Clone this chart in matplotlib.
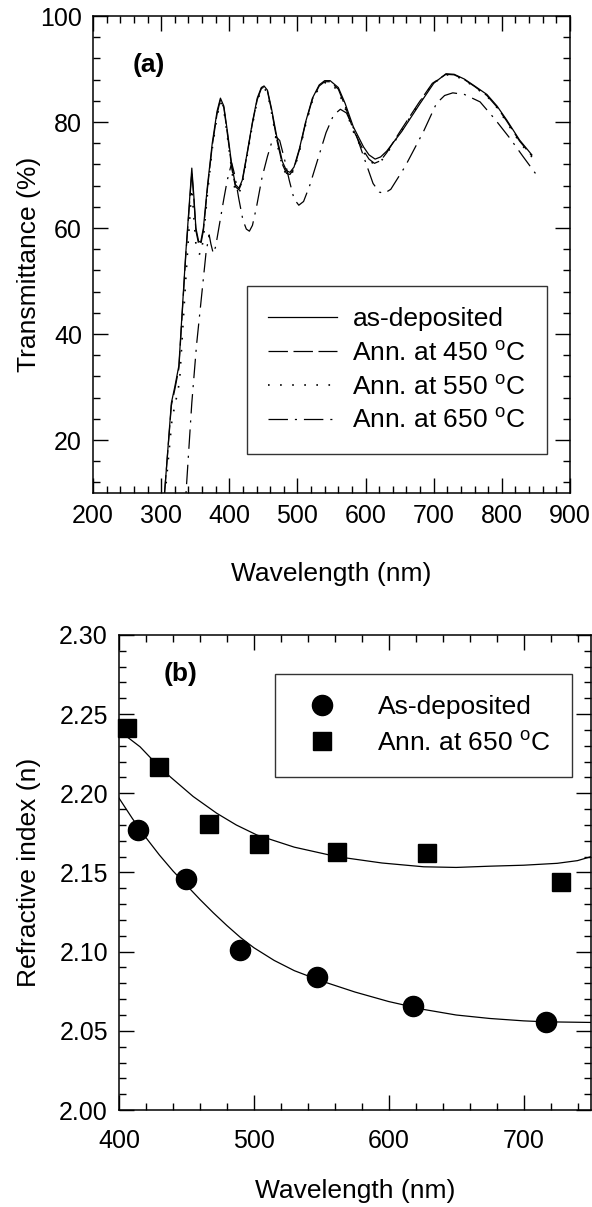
import matplotlib
matplotlib.use("Agg")
import matplotlib.pyplot as plt
from matplotlib.ticker import MultipleLocator, FormatStrFormatter

plt.rcParams['font.family'] = ['Liberation Sans', 'DejaVu Sans']
plt.rcParams['mathtext.fontset'] = 'custom'
plt.rcParams['mathtext.rm'] = 'Liberation Sans'
plt.rcParams['lines.scale_dashes'] = False

# ---------------- (a) Transmittance spectra ----------------
wl_asdep = [303, 305, 315, 320, 326, 336, 341, 345, 348, 351, 355, 358, 362, 368, 375, 382, 387,
            392, 398, 404, 409, 414, 419, 426, 434, 441, 447, 451, 456, 462, 470, 478, 484, 489,
            495, 503, 512, 522, 532, 540, 548, 560, 570, 582, 597, 605, 614, 622, 631, 653, 680,
            700, 718, 730, 745, 760, 778, 793, 807, 826, 844]
T_asdep = [5, 10, 27, 30, 34, 55, 64, 71.3, 66, 60, 57.5, 57.3, 60, 68, 76, 82, 84.5,
           83, 77.5, 71.5, 68.2, 67.5, 69, 74, 80, 84.5, 86.5, 86.8, 86, 82.5, 77, 72.5, 70.8, 70.5,
           71.5, 75, 80, 84.5, 87, 87.8, 87.8, 86.5, 83.5, 79.1, 75.3, 73.8, 73.0, 73.4, 74.5, 78.2, 83.5,
           87.3, 89.1, 89.0, 88.1, 86.8, 85.2, 83.0, 80.4, 76.6, 73.8]

wl_450 = [303, 305, 315, 320, 326, 336, 341, 345, 348, 351, 355, 358, 362, 368, 375, 382, 387,
          392, 398, 404, 409, 414, 419, 426, 434, 441, 447, 451, 456, 462, 470, 478, 484, 489,
          495, 503, 512, 522, 532, 540, 548, 560, 570, 582, 597, 605, 613, 622, 631, 651, 678,
          698, 718, 730, 745, 760, 778, 793, 807, 826, 844]
T_450 = [5, 10, 26.5, 29.5, 33.5, 54.5, 63.5, 70.5, 65.5, 59.5, 57, 56.8, 59.5, 67.5, 75.5, 81.5, 84.2,
         82.7, 77, 71, 67.8, 67.2, 68.7, 73.8, 79.8, 84.2, 86.3, 86.6, 85.8, 82.2, 76.5, 72, 70.3, 70.1,
         71.2, 74.8, 79.8, 84.3, 86.8, 87.6, 87.6, 86.2, 83, 78.5, 74.6, 73.0, 72.2, 72.7, 74.2, 78.3, 83.6,
         87.3, 89.0, 88.9, 88.0, 86.7, 85.0, 82.8, 80.2, 76.4, 73.6]

wl_550 = [303, 306, 316, 321, 327, 336, 341, 345, 348, 351, 355, 358, 362, 368, 375, 382, 387,
          392, 398, 404, 409, 414, 419, 426, 434, 441, 447, 451, 456, 462, 470, 478, 484, 489,
          495, 503, 512, 522, 532, 540, 548, 560, 570, 582, 597, 605, 613, 622, 631, 651, 678,
          698, 718, 730, 745, 760, 778, 793, 807, 826, 844]
T_550 = [5, 10, 24, 27, 31, 50, 60, 67.5, 62, 57, 55.2, 55, 58, 66.5, 75, 81, 83.8,
         82.3, 76.5, 70.5, 66.8, 66.5, 68.2, 73.5, 79.5, 84, 86, 86.4, 85.5, 81.8, 76, 71.6, 70, 69.8,
         71, 74.5, 79.5, 84, 86.6, 87.4, 87.4, 85.8, 82.6, 78.2, 74.3, 72.8, 72.0, 72.5, 74.0, 78.0, 83.4,
         87.2, 88.9, 88.8, 87.9, 86.6, 84.9, 82.7, 80.0, 76.2, 73.4]

wl_650 = [334, 336.5, 345, 352, 360, 366, 370.5, 373, 376.5, 380, 386, 392, 397, 403.5, 408, 414,
          420, 425, 429.5, 434, 440, 448, 456, 463, 469, 474, 481, 488, 495, 502, 509, 518, 530,
          542, 553, 563, 572, 584.5, 599, 611, 620, 627, 637, 658, 685, 704, 716, 728, 745, 768,
          790, 812, 831, 851]
T_650 = [5, 10, 27, 38, 48, 55.5, 58.7, 57, 55.2, 56.5, 61, 65.5, 69, 72.3, 70, 65.5,
         61.5, 59.8, 59.4, 60.5, 64, 69.5, 73.5, 76.5, 77.2, 76.5, 73, 69, 65.5, 64.3, 65, 68, 73,
         78, 81.3, 82.4, 81.7, 78.2, 72.8, 68.4, 66.8, 66.5, 67.3, 71.6, 78.2, 83.5, 85.0, 85.5, 85.2, 83.8,
         80.5, 76.9, 73.5, 70.0]

labels_a = ['as-deposited', r'Ann. at 450 $^{\mathrm{o}}$C',
            r'Ann. at 550 $^{\mathrm{o}}$C', r'Ann. at 650 $^{\mathrm{o}}$C']

# ---------------- (b) Refractive index ----------------
wl_n_asdep = [413.9, 449.5, 489.8, 546.8, 618.0, 716.3]
n_asdep = [2.177, 2.1457, 2.101, 2.0842, 2.0656, 2.0557]
wl_n_650 = [405.7, 430.0, 466.8, 503.9, 561.6, 628.4, 728.0]
n_650 = [2.241, 2.2168, 2.1806, 2.168, 2.163, 2.162, 2.144]

fit_wl_asdep = [400, 410, 420, 430, 440, 450, 460, 470, 480, 490, 500, 515, 530, 550, 575, 600,
                626, 650, 675, 700, 716, 750]
fit_n_asdep = [2.197, 2.184, 2.172, 2.161, 2.151, 2.142, 2.133, 2.1245, 2.1165, 2.109, 2.1025, 2.0945,
               2.0880, 2.0815, 2.0745, 2.0685, 2.0635, 2.0600, 2.0578, 2.0563, 2.0557, 2.0553]
fit_wl_650 = [400, 407, 415.6, 425, 437.9, 455, 472.5, 487, 502.2, 530, 561.6, 595, 626, 650, 675.4,
              700, 725, 740, 750]
fit_n_650 = [2.240, 2.235, 2.2294, 2.221, 2.2105, 2.198, 2.1874, 2.180, 2.1737, 2.166, 2.160, 2.156,
             2.1536, 2.1532, 2.154, 2.1546, 2.1558, 2.1575, 2.160]
labels_b = ['As-deposited', r'Ann. at 650 $^{\mathrm{o}}$C']

# ---------------- figure ----------------
W, H = 592, 1207
fig = plt.figure(figsize=(W / 100, H / 100), dpi=100)

def frac(x0, y0, x1, y1):
    return [x0 / W, 1 - y1 / H, (x1 - x0) / W, (y1 - y0) / H]

ax1 = fig.add_axes(frac(93, 16, 570, 493))
ax2 = fig.add_axes(frac(119, 635, 591, 1110))

lw = 0.9
ax1.plot(wl_asdep, T_asdep, color='black', lw=lw, ls='-', label=labels_a[0])
ax1.plot(wl_450, T_450, color='black', lw=lw, ls=(0, (14, 4)), label=labels_a[1])
ax1.plot(wl_550, T_550, color='black', lw=1.2, ls=(0, (1.2, 7.5)), label=labels_a[2])
ax1.plot(wl_650, T_650, color='black', lw=lw, ls=(0, (14, 5, 1.5, 5)), label=labels_a[3])

ax1.set_xlim(200, 900)
ax1.set_ylim(10, 100)
ax1.xaxis.set_major_locator(MultipleLocator(100))
ax1.xaxis.set_minor_locator(MultipleLocator(20))
ax1.yaxis.set_major_locator(MultipleLocator(20))
ax1.yaxis.set_minor_locator(MultipleLocator(4))
ax1.set_xlabel('Wavelength (nm)', fontsize=19)
ax1.set_ylabel('Transmittance (%)', fontsize=19)
ax1.xaxis.set_label_coords(0.5, -0.145)
ax1.yaxis.set_label_coords(-0.108, 0.48)
ax1.text(0.084, 0.883, '(a)', transform=ax1.transAxes, fontsize=19, fontweight='bold')
leg1 = ax1.legend(loc='lower right', bbox_to_anchor=(0.952, 0.081), borderaxespad=0,
                  fontsize=19, frameon=True, fancybox=False, edgecolor='black',
                  handlelength=2.6, handletextpad=0.6, labelspacing=0.35, borderpad=0.8)
leg1.get_frame().set_linewidth(1.0)

ax2.plot(fit_wl_asdep, fit_n_asdep, color='black', lw=lw)
ax2.plot(fit_wl_650, fit_n_650, color='black', lw=lw)
ax2.plot(wl_n_asdep, n_asdep, 'o', color='black', ms=14.5, ls='none', label=labels_b[0], clip_on=False)
ax2.plot(wl_n_650, n_650, 's', color='black', ms=13, ls='none', label=labels_b[1], clip_on=False)
ax2.set_xlim(400, 750)
ax2.set_ylim(2.00, 2.30)
ax2.xaxis.set_major_locator(MultipleLocator(100))
ax2.xaxis.set_minor_locator(MultipleLocator(20))
ax2.yaxis.set_major_locator(MultipleLocator(0.05))
ax2.yaxis.set_minor_locator(MultipleLocator(0.01))
ax2.yaxis.set_major_formatter(FormatStrFormatter('%.2f'))
ax2.set_xlabel('Wavelength (nm)', fontsize=19)
ax2.set_ylabel('Refractive index (n)', fontsize=19)
ax2.xaxis.set_label_coords(0.5, -0.145)
ax2.yaxis.set_label_coords(-0.165, 0.5)
ax2.text(0.095, 0.903, '(b)', transform=ax2.transAxes, fontsize=19, fontweight='bold')
leg2 = ax2.legend(loc='upper right', bbox_to_anchor=(0.960, 0.918), borderaxespad=0,
                  fontsize=19, frameon=True, fancybox=False, edgecolor='black', numpoints=1,
                  handlelength=2.0, handletextpad=1.1, labelspacing=0.45, borderpad=0.8)
leg2.get_frame().set_linewidth(1.0)

for ax in (ax1, ax2):
    for s in ax.spines.values():
        s.set_linewidth(1.1)
    ax.tick_params(which='both', direction='in', top=True, right=True, labelsize=18, pad=8, width=1.0)
    ax.tick_params(which='major', length=11)
    ax.tick_params(which='minor', length=5)
ax2.tick_params(axis='x', which='both', pad=14)

fig.savefig('out.png', dpi=100)
